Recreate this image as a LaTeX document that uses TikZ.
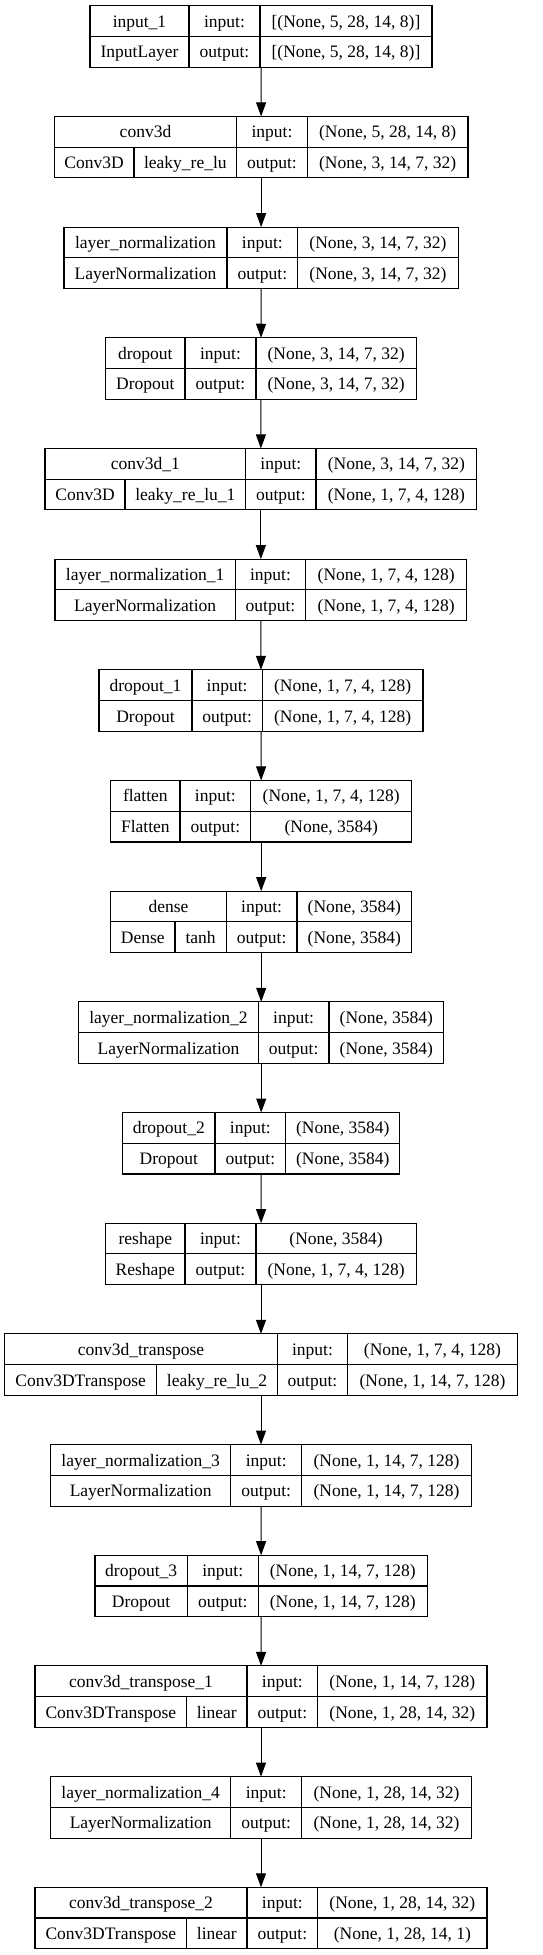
\documentclass[tikz,border=0pt]{standalone}
\usepackage{fontspec}
\setmainfont{Liberation Serif}
\usetikzlibrary{arrows.meta}

\begin{document}
\begin{tikzpicture}[x=1pt,y=-1pt,>={Triangle[length=14pt,width=10pt]},
        cell/.style={draw,rectangle,line width=1.1pt,inner sep=0pt,outer sep=0pt,
            minimum height=30.75pt,text height=13pt,text depth=0.8pt,
            font=\fontsize{17.5}{20}\selectfont},
        frame/.style={rectangle,inner sep=0pt,outer sep=0pt,minimum height=61.5pt}]
  \useasboundingbox (0,0) rectangle (543,1955);
  % layers: name | input: | shape  /  class | output: | shape
  \foreach \i/\xl/\xa/\xb/\xr/\nm/\cls/\shin/\shout in {
      0/90/189/260/432/input\_1/InputLayer/{[(None, 5, 28, 14, 8)]}/{[(None, 5, 28, 14, 8)]},
      2/64/227/297.7/458.3/layer\_normalization/LayerNormalization/{(None, 3, 14, 7, 32)}/{(None, 3, 14, 7, 32)},
      3/105.7/185/256/416.3/dropout/Dropout/{(None, 3, 14, 7, 32)}/{(None, 3, 14, 7, 32)},
      5/55/235.3/305.7/466.7/layer\_normalization\_1/LayerNormalization/{(None, 1, 7, 4, 128)}/{(None, 1, 7, 4, 128)},
      6/99/192/262.3/423/dropout\_1/Dropout/{(None, 1, 7, 4, 128)}/{(None, 1, 7, 4, 128)},
      7/110.7/180/250.7/411.7/flatten/Flatten/{(None, 1, 7, 4, 128)}/{(None, 3584)},
      9/78.7/258.3/329/443.7/layer\_normalization\_2/LayerNormalization/{(None, 3584)}/{(None, 3584)},
      10/122.7/215/285.7/399.7/dropout\_2/Dropout/{(None, 3584)}/{(None, 3584)},
      11/105.7/185/256/416.3/reshape/Reshape/{(None, 3584)}/{(None, 1, 7, 4, 128)},
      13/50.7/230.7/301.7/471.3/layer\_normalization\_3/LayerNormalization/{(None, 1, 14, 7, 128)}/{(None, 1, 14, 7, 128)},
      14/95/187.3/258.3/427.3/dropout\_3/Dropout/{(None, 1, 14, 7, 128)}/{(None, 1, 14, 7, 128)},
      16/50.7/230.7/301.7/471.3/layer\_normalization\_4/LayerNormalization/{(None, 1, 28, 14, 32)}/{(None, 1, 28, 14, 32)}}{
    \pgfmathsetmacro\ty{5.7+110.68*\i}
    \pgfmathsetmacro\ya{\ty+15.375}
    \pgfmathsetmacro\yb{\ty+46.125}
    \pgfmathsetmacro\wfr{\xr-\xl}
    \pgfmathsetmacro\wname{\xa-\xl}
    \pgfmathsetmacro\wio{\xb-\xa}
    \pgfmathsetmacro\wval{\xr-\xb}
    \node[frame,minimum width=\wfr pt] (l\i) at ({(\xl+\xr)/2},{\ty+30.75}) {};
    \node[cell,minimum width=\wname pt] (l\i-name) at ({(\xl+\xa)/2},\ya) {\nm};
    \node[cell,minimum width=\wio pt] (l\i-in) at ({(\xa+\xb)/2},\ya) {input:};
    \node[cell,minimum width=\wval pt] (l\i-inval) at ({(\xb+\xr)/2},\ya) {\shin};
    \node[cell,minimum width=\wname pt] (l\i-cls) at ({(\xl+\xa)/2},\yb) {\cls};
    \node[cell,minimum width=\wio pt] (l\i-out) at ({(\xa+\xb)/2},\yb) {output:};
    \node[cell,minimum width=\wval pt] (l\i-outval) at ({(\xb+\xr)/2},\yb) {\shout};
  }
  % layers with an activation column
  \foreach \i/\xl/\xc/\xa/\xb/\xr/\nm/\cls/\act/\shin/\shout in {
      1/54.3/134/236.7/307.3/468/conv3d/Conv3D/leaky\_re\_lu/{(None, 5, 28, 14, 8)}/{(None, 3, 14, 7, 32)},
      4/45/125/245.7/316/476.7/conv3d\_1/Conv3D/leaky\_re\_lu\_1/{(None, 3, 14, 7, 32)}/{(None, 1, 7, 4, 128)},
      8/110.7/175/226.3/297/411.7/dense/Dense/tanh/{(None, 3584)}/{(None, 3584)},
      12/4.7/156.7/277.3/347.7/517.3/conv3d\_transpose/Conv3DTranspose/leaky\_re\_lu\_2/{(None, 1, 7, 4, 128)}/{(None, 1, 14, 7, 128)},
      15/35/186.7/247/317.7/487/conv3d\_transpose\_1/Conv3DTranspose/linear/{(None, 1, 14, 7, 128)}/{(None, 1, 28, 14, 32)},
      17/35/186.7/247/317.7/487/conv3d\_transpose\_2/Conv3DTranspose/linear/{(None, 1, 28, 14, 32)}/{(None, 1, 28, 14, 1)}}{
    \pgfmathsetmacro\ty{5.7+110.68*\i}
    \pgfmathsetmacro\ya{\ty+15.375}
    \pgfmathsetmacro\yb{\ty+46.125}
    \pgfmathsetmacro\wfr{\xr-\xl}
    \pgfmathsetmacro\wname{\xa-\xl}
    \pgfmathsetmacro\wio{\xb-\xa}
    \pgfmathsetmacro\wval{\xr-\xb}
    \pgfmathsetmacro\wcls{\xc-\xl}
    \pgfmathsetmacro\wact{\xa-\xc}
    \node[frame,minimum width=\wfr pt] (l\i) at ({(\xl+\xr)/2},{\ty+30.75}) {};
    \node[cell,minimum width=\wname pt] (l\i-name) at ({(\xl+\xa)/2},\ya) {\nm};
    \node[cell,minimum width=\wio pt] (l\i-in) at ({(\xa+\xb)/2},\ya) {input:};
    \node[cell,minimum width=\wval pt] (l\i-inval) at ({(\xb+\xr)/2},\ya) {\shin};
    \node[cell,minimum width=\wcls pt] (l\i-cls) at ({(\xl+\xc)/2},\yb) {\cls};
    \node[cell,minimum width=\wact pt] (l\i-act) at ({(\xc+\xa)/2},\yb) {\act};
    \node[cell,minimum width=\wio pt] (l\i-out) at ({(\xa+\xb)/2},\yb) {output:};
    \node[cell,minimum width=\wval pt] (l\i-outval) at ({(\xb+\xr)/2},\yb) {\shout};
  }
  \foreach \i [evaluate=\i as \j using int(\i+1)] in {0,...,16}
    \draw[->,line width=1pt] (l\i) -- (l\j);
\end{tikzpicture}
\end{document}
